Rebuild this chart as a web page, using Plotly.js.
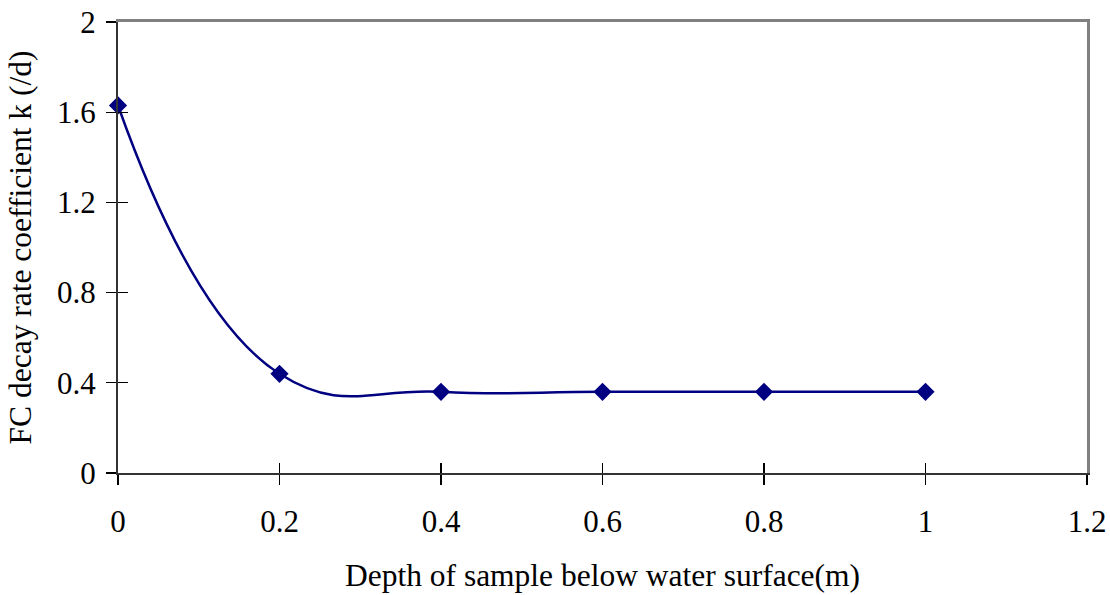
<!DOCTYPE html>
<html><head><meta charset="utf-8">
<script src="https://cdn.plot.ly/plotly-3.0.1.min.js"></script>
<style>html,body{margin:0;padding:0;background:#fff}#c{width:1110px;height:595px}</style>
</head><body><div id="c"></div>
<script>
const depth = [0, 0.2, 0.4, 0.6, 0.8, 1.0];
const kRate = [1.63, 0.44, 0.36, 0.36, 0.36, 0.36];
const xTicks = [0, 0.2, 0.4, 0.6, 0.8, 1, 1.2];
const xTickText = ['0', '0.2', '0.4', '0.6', '0.8', '1', '1.2'];
const yTicks = [0, 0.4, 0.8, 1.2, 1.6, 2];
const yTickText = ['0', '0.4', '0.8', '1.2', '1.6', '2'];

const fam = '"Liberation Serif", "Times New Roman", serif';
const tickFont = {family: fam, size: 31, color: '#000'};
const titleFont = {family: fam, size: 31.5, color: '#000'};

const data = [{
  x: depth, y: kRate, type: 'scatter', mode: 'lines+markers',
  line: {color: '#000080', width: 2.5, shape: 'spline', smoothing: 1.3},
  marker: {symbol: 'diamond', size: 14, color: '#000080'},
  showlegend: false, cliponaxis: false
}];

const layout = {
  width: 1110, height: 595,
  margin: {l: 118, r: 23, t: 22, b: 122},
  paper_bgcolor: '#fff', plot_bgcolor: '#fff',
  font: tickFont,
  xaxis: {
    range: [0, 1.2], tickvals: xTicks, ticktext: xTickText,
    ticks: 'outside', ticklen: 10, tickwidth: 1.3, tickcolor: '#000',
    showgrid: false, zeroline: false, showline: true, linecolor: '#333', linewidth: 2,
    tickfont: tickFont, ticklabelstandoff: 10,
    title: {text: 'Depth of sample below water surface(m)', font: titleFont, standoff: 26}
  },
  yaxis: {
    range: [0, 2], tickvals: yTicks, ticktext: yTickText,
    ticks: 'outside', ticklen: 10, tickwidth: 1.3, tickcolor: '#000',
    showgrid: false, zeroline: false, showline: true, linecolor: '#333', linewidth: 2,
    tickfont: tickFont, ticklabelstandoff: 4,
    title: {text: 'FC decay rate coefficient k (/d)', font: titleFont, standoff: 16}
  },
  xaxis2: {
    overlaying: 'x', range: [0, 1.2], tickvals: xTicks, showticklabels: false,
    ticks: 'inside', ticklen: 10, tickwidth: 1.3, tickcolor: '#000',
    showgrid: false, zeroline: false, showline: false, side: 'bottom'
  },
  yaxis2: {
    overlaying: 'y', range: [0, 2], tickvals: yTicks, showticklabels: false,
    ticks: 'inside', ticklen: 10, tickwidth: 1.3, tickcolor: '#000',
    showgrid: false, zeroline: false, showline: false, side: 'left'
  },
  xaxis3: {
    overlaying: 'x', range: [0, 1.2], showticklabels: false, ticks: '',
    showgrid: false, zeroline: false, showline: true, linecolor: '#808080', linewidth: 3, side: 'top'
  },
  yaxis3: {
    overlaying: 'y', range: [0, 2], showticklabels: false, ticks: '',
    showgrid: false, zeroline: false, showline: true, linecolor: '#808080', linewidth: 3, side: 'right'
  }
};

const aux = [
  {x: [0], y: [0], xaxis: 'x2', yaxis: 'y2', mode: 'markers', marker: {opacity: 0}, showlegend: false, hoverinfo: 'skip'},
  {x: [0], y: [0], xaxis: 'x3', yaxis: 'y3', mode: 'markers', marker: {opacity: 0}, showlegend: false, hoverinfo: 'skip'}
];

Plotly.newPlot('c', aux.concat(data), layout, {displayModeBar: false, staticPlot: true});
</script>
</body></html>
